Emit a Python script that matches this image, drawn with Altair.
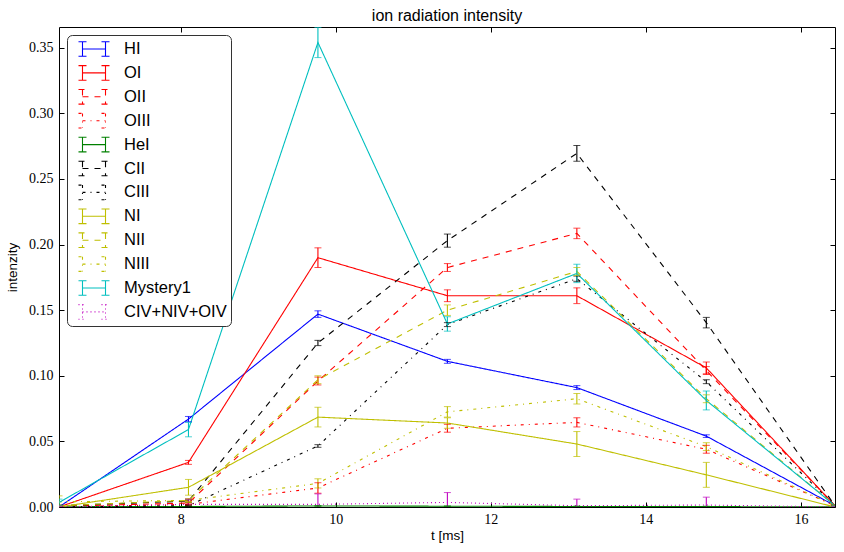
import altair as alt
import pandas as pd

# time points [ms]
t = [6.43, 8.10, 9.77, 11.44, 13.11, 14.78, 16.44]

names = ["HI", "OI", "OII", "OIII", "HeI", "CII", "CIII", "NI", "NII", "NIII", "Mystery1", "CIV+NIV+OIV"]
colors = ["#0000ff", "#ff0000", "#ff0000", "#ff0000", "#008000", "#000000", "#000000",
          "#bfbf00", "#bfbf00", "#bfbf00", "#00bfbf", "#bf00bf"]
dashes = [[1, 0], [1, 0], [6, 6], [3, 5, 1, 5], [1, 0], [6, 6], [3, 5, 1, 5],
          [1, 0], [6, 6], [3, 5, 1, 5], [1, 0], [1, 3]]

HI = [0.000, 0.067, 0.147, 0.111, 0.091, 0.054, 0.001]
HI_err = [0.0005, 0.002, 0.0025, 0.0015, 0.0015, 0.001, 0.0005]
OI = [0.000, 0.034, 0.190, 0.161, 0.161, 0.106, 0.001]
OI_err = [0.0005, 0.0015, 0.0075, 0.0045, 0.006, 0.0045, 0.0005]
OII = [0.0005, 0.003, 0.096, 0.1825, 0.2085, 0.104, 0.001]
OII_err = [0.0005, 0.001, 0.003, 0.003, 0.004, 0.003, 0.0005]
OIII = [0.000, 0.002, 0.0145, 0.060, 0.0645, 0.044, 0.001]
OIII_err = [0.0005, 0.001, 0.004, 0.003, 0.0035, 0.003, 0.0005]
HeI = [0.0002, 0.0004, 0.0008, 0.0006, 0.0004, 0.0003, 0.0001]
HeI_err = [0.0002, 0.0003, 0.0003, 0.0003, 0.0003, 0.0003, 0.0002]
CII = [0.001, 0.0045, 0.125, 0.203, 0.2695, 0.1405, 0.001]
CII_err = [0.0005, 0.001, 0.002, 0.005, 0.006, 0.004, 0.0005]
CIII = [0.000, 0.001, 0.0465, 0.139, 0.174, 0.0955, 0.001]
CIII_err = [0.0003, 0.0005, 0.001, 0.0015, 0.002, 0.0015, 0.0003]
NI = [0.000, 0.015, 0.0685, 0.064, 0.048, 0.0245, 0.000]
NI_err = [0.0005, 0.006, 0.0075, 0.004, 0.0095, 0.0095, 0.0005]
NII = [0.001, 0.005, 0.097, 0.150, 0.1795, 0.0825, 0.001]
NII_err = [0.0005, 0.001, 0.003, 0.004, 0.003, 0.003, 0.0005]
NIII = [0.004, 0.005, 0.018, 0.0725, 0.0825, 0.046, 0.001]
NIII_err = [0.0045, 0.0015, 0.0035, 0.004, 0.004, 0.003, 0.0005]
Mystery1 = [0.0035, 0.059, 0.354, 0.1395, 0.178, 0.0812, 0.001]
Mystery1_err = [0.0025, 0.0055, 0.0115, 0.0055, 0.007, 0.0072, 0.0005]
CIV = [0.000, 0.002, 0.002, 0.0035, 0.001, 0.0015, 0.000]
CIV_err = [0.0005, 0.004, 0.008, 0.0075, 0.005, 0.006, 0.0005]

x_ticks = [8, 10, 12, 14, 16]
y_ticks = [0.0, 0.05, 0.10, 0.15, 0.20, 0.25, 0.30, 0.35]

series = [HI, OI, OII, OIII, HeI, CII, CIII, NI, NII, NIII, Mystery1, CIV]
errs = [HI_err, OI_err, OII_err, OIII_err, HeI_err, CII_err, CIII_err, NI_err,
        NII_err, NIII_err, Mystery1_err, CIV_err]

rows = []
for k, (n, vals, ee) in enumerate(zip(names, series, errs)):
    for ti, v, e in zip(t, vals, ee):
        rows.append(dict(ion=n, k=k, t=ti, v=v, lo=v - e, hi=v + e))
df = pd.DataFrame(rows)

W, H = 776, 480
xs = alt.Scale(domain=[6.43, 16.44], nice=False, zero=False)
ys = alt.Scale(domain=[0, 0.3658], nice=False, zero=False)
cs = alt.Scale(domain=names, range=colors)
ds = alt.Scale(domain=names, range=dashes)

PATH = ("M-0.523,0L0.523,0"
        "M-0.523,-0.332L-0.523,0.332M0.523,-0.332L0.523,0.332"
        "M-0.705,-0.332L-0.341,-0.332M-0.705,0.332L-0.341,0.332"
        "M0.341,-0.332L0.705,-0.332M0.341,0.332L0.705,0.332")

legend = alt.Legend(title=None, orient="top-left", offset=8, padding=4,
                    symbolType=PATH, symbolSize=1936, symbolStrokeWidth=1.1,
                    clipHeight=20, rowPadding=3.9, labelOffset=7,
                    labelFont="Liberation Sans", labelFontSize=16.5, labelColor="black",
                    labelLimit=300, strokeColor="#333333", cornerRadius=5,
                    fillColor="white")

ax_x_main = alt.Axis(orient="bottom", values=x_ticks, format="d", ticks=False, domain=False,
                     grid=False, labelFont="Liberation Serif", labelFontSize=14,
                     labelColor="black", labelPadding=5, title="t [ms]",
                     titleFont="Liberation Sans", titleFontSize=13.5, titleFontWeight="normal",
                     titleColor="black", titlePadding=2, labelOverlap=False)
ax_y_main = alt.Axis(orient="left", values=y_ticks, format=".2f", ticks=False, domain=False,
                     grid=False, labelFont="Liberation Serif", labelFontSize=14,
                     labelColor="black", labelPadding=6, title="intenzity",
                     titleFont="Liberation Sans", titleFontSize=13.5, titleFontWeight="normal",
                     titleColor="black", titlePadding=9, labelOverlap=False, labelBound=False)

def tick_axis(orient, offset, vals):
    return alt.Axis(orient=orient, offset=offset, values=vals, labels=False, domain=False,
                    grid=False, ticks=True, tickSize=5, tickColor="black", tickWidth=1,
                    title=None)

lines = alt.Chart(df).mark_line(strokeWidth=1.1, clip=True).encode(
    x=alt.X("t:Q", scale=xs, axis=ax_x_main),
    y=alt.Y("v:Q", scale=ys, axis=ax_y_main),
    color=alt.Color("ion:N", scale=cs, legend=legend),
    strokeDash=alt.StrokeDash("ion:N", scale=ds, legend=legend),
    detail="ion:N",
)

rules = alt.Chart(df).mark_rule(strokeWidth=1.1, clip=True).encode(
    x=alt.X("t:Q", scale=xs, axis=tick_axis("top", -H, x_ticks)),
    y=alt.Y("lo:Q", scale=ys, axis=tick_axis("right", -W, y_ticks)),
    y2="hi:Q",
    color=alt.Color("ion:N", scale=cs, legend=None),
)

caps = alt.Chart(df).transform_fold(["lo", "hi"], as_=["which", "cap"]).mark_tick(
    orient="horizontal", size=7, thickness=1, clip=True
).encode(
    x=alt.X("t:Q", scale=xs, axis=tick_axis("bottom", -H, x_ticks)),
    y=alt.Y("cap:Q", scale=ys, axis=tick_axis("left", -W, y_ticks)),
    color=alt.Color("ion:N", scale=cs, legend=None),
)

chart = alt.layer(lines, rules, caps).resolve_axis(
    x="independent", y="independent"
).properties(
    width=W, height=H,
    title=alt.TitleParams(text="ion radiation intensity", font="Liberation Sans",
                          fontSize=16, fontWeight="normal", color="black",
                          anchor="middle", baseline="alphabetic", offset=-10),
    autosize=alt.AutoSizeParams(type="none"),
    padding={"left": 59, "top": 27, "right": 9, "bottom": 45},
    background="white",
).configure_view(stroke="black", strokeWidth=1)

chart.save("out.html", embed_options={"renderer": "svg", "actions": False})
